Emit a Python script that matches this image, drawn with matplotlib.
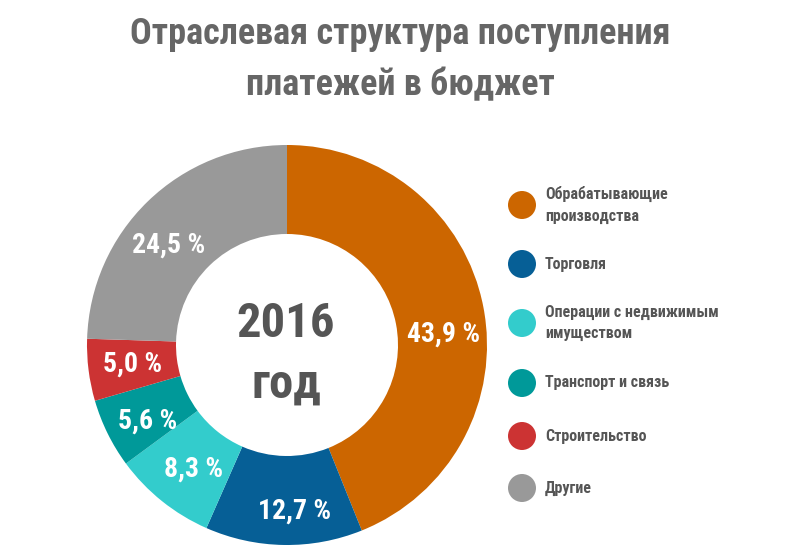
import matplotlib
matplotlib.use("Agg")
import matplotlib.pyplot as plt
from matplotlib import font_manager
from matplotlib.font_manager import FontProperties

def pick_font():
    entries = font_manager.fontManager.ttflist
    prefs = ["RobotoCondensed", "LiberationSansNarrow", "DejaVuSansCondensed",
             "NotoSansCondensed", "NotoSans-Condensed", "OpenSansCondensed", "OpenSans_Condensed"]
    for p in prefs:
        for f in entries:
            base = f.fname.replace(" ", "").split("/")[-1]
            if p in base and "Bold" in base and "Italic" not in base \
                    and "Oblique" not in base and "Extra" not in base and "Semi" not in base:
                return f.fname
    for f in entries:
        if f.name in ("Roboto Condensed", "Liberation Sans Narrow") or \
                (str(f.stretch) in ("condensed", "semi-condensed") and f.weight in ("bold", 700)):
            return f.fname
    return None

fpath = pick_font()
if fpath:
    def FP(size):
        return FontProperties(fname=fpath, size=size)
else:
    def FP(size):
        return FontProperties(family=["DejaVu Sans"], weight="bold", size=size * 0.85)

categories = ["Обрабатывающие\nпроизводства", "Торговля", "Операции с недвижимым\nимуществом",
              "Транспорт и связь", "Строительство", "Другие"]
values = [43.9, 12.7, 8.3, 5.6, 5.0, 24.5]
colors = ["#CC6600", "#065F96", "#33CCCC", "#009999", "#CC3333", "#999999"]
title_lines = ["Отраслевая структура поступления", "платежей в бюджет"]
center_text = ["2016", "год"]

# small position nudges of the percentage labels (axes data units)
label_nudge = [(0.02, -0.095), (0.05, -0.055), (0.02, -0.015), (0.0, -0.035), (0.0, 0.0), (-0.05, -0.06)]

fig = plt.figure(figsize=(8, 5.59), dpi=100)
fig.patch.set_facecolor("white")

ax = fig.add_axes([87/800, 14/559, 400/800, 400/559])
wedges, texts, autotexts = ax.pie(
    values, colors=colors, startangle=90, counterclock=False, radius=1,
    wedgeprops=dict(width=0.445, edgecolor="none"),
    autopct=lambda p: f"{p:.1f}".replace(".", ",") + " %", pctdistance=0.777,
    textprops=dict(color="white"))
for t, (dx, dy) in zip(autotexts, label_nudge):
    t.set_fontproperties(FP(20))
    x, y = t.get_position()
    t.set_position((x + dx, y + dy))
ax.set_xlim(-1, 1)
ax.set_ylim(-1, 1)
ax.axis("off")

lax = fig.add_axes([0, 0, 1, 1], facecolor="none")
lax.set_xlim(0, 800)
lax.set_ylim(559, 0)
lax.axis("off")

lax.text(286, 337, center_text[0], ha="center", va="baseline", fontproperties=FP(35), color="#555555")
lax.text(286, 398, center_text[1], ha="center", va="baseline", fontproperties=FP(35), color="#555555")

lax.text(400, 44, title_lines[0], ha="center", va="baseline", fontproperties=FP(26), color="#666666")
lax.text(400, 95, title_lines[1], ha="center", va="baseline", fontproperties=FP(26), color="#666666")

legend_y = [205, 264, 323, 383, 436, 488]
for cat, col, y in zip(categories, colors, legend_y):
    lax.scatter([522], [y], s=(28*0.72)**2, color=col, edgecolors="none")
    lax.text(545, y, cat, ha="left", va="center", fontproperties=FP(11.5),
             color="#555555", linespacing=1.55)

fig.savefig("out.png", dpi=100, facecolor="white")
